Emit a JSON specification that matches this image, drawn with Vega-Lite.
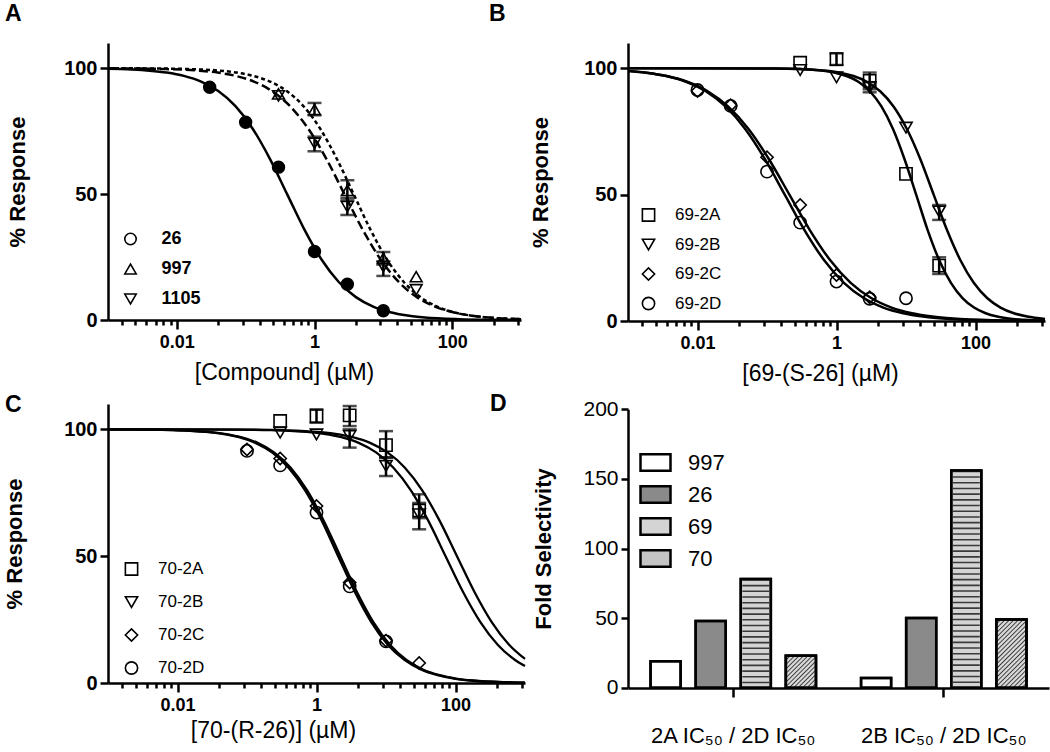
{
  "$schema": "https://vega.github.io/schema/vega-lite/v6.json",
  "padding": {"left": 3, "top": 3, "right": 5, "bottom": 5},
  "config": {
    "font": "Liberation Sans",
    "view": {"stroke": null},
    "axis": {"domainColor": "#000", "domainWidth": 2.5, "tickColor": "#000", "tickWidth": 2.5, "labelColor": "#000", "titleColor": "#000", "grid": false, "labelFont": "Liberation Sans", "titleFont": "Liberation Sans"},
    "legend": {"labelColor": "#000", "labelFont": "Liberation Sans"},
    "title": {"color": "#000", "font": "Liberation Sans"}
  },
  "resolve": {
    "scale": {"shape": "independent", "fill": "independent", "color": "independent"},
    "legend": {"shape": "independent", "fill": "independent", "color": "independent"}
  },
  "datasets": {
    "curveA": [
      {"s":"26","x":0.001,"y":99.75},{"s":"26","x":0.004,"y":99.01},{"s":"26","x":0.00711,"y":98.25},{"s":"26","x":0.01265,"y":96.93},{"s":"26","x":0.0225,"y":94.68},{"s":"26","x":0.04,"y":90.91},{"s":"26","x":0.0711,"y":84.9},{"s":"26","x":0.1265,"y":75.97},{"s":"26","x":0.225,"y":64.01},{"s":"26","x":0.4,"y":50},{"s":"26","x":0.711,"y":35.99},{"s":"26","x":1.265,"y":24.03},{"s":"26","x":2.25,"y":15.1},{"s":"26","x":4,"y":9.09},{"s":"26","x":7.11,"y":5.32},{"s":"26","x":12.65,"y":3.07},{"s":"26","x":22.5,"y":1.75},{"s":"26","x":40,"y":0.99},{"s":"26","x":126.5,"y":0.32},{"s":"26","x":400,"y":0.1},{"s":"26","x":1000,"y":0.04},
      {"s":"997","x":0.001,"y":99.98},{"s":"997","x":0.00452,"y":99.9},{"s":"997","x":0.01384,"y":99.68},{"s":"997","x":0.0423,"y":99.01},{"s":"997","x":0.074,"y":98.25},{"s":"997","x":0.1294,"y":96.93},{"s":"997","x":0.226,"y":94.68},{"s":"997","x":0.395,"y":90.91},{"s":"997","x":0.692,"y":84.9},{"s":"997","x":1.21,"y":75.97},{"s":"997","x":2.11,"y":64.01},{"s":"997","x":3.7,"y":50},{"s":"997","x":6.47,"y":35.99},{"s":"997","x":11.3,"y":24.03},{"s":"997","x":19.8,"y":15.1},{"s":"997","x":34.6,"y":9.09},{"s":"997","x":60.5,"y":5.32},{"s":"997","x":105.7,"y":3.07},{"s":"997","x":185,"y":1.75},{"s":"997","x":323.6,"y":0.99},{"s":"997","x":1000,"y":0.31},
      {"s":"1105","x":0.001,"y":99.95},{"s":"1105","x":0.00189,"y":99.9},{"s":"1105","x":0.00636,"y":99.68},{"s":"1105","x":0.0214,"y":99.01},{"s":"1105","x":0.0392,"y":98.25},{"s":"1105","x":0.0718,"y":96.93},{"s":"1105","x":0.1315,"y":94.68},{"s":"1105","x":0.241,"y":90.91},{"s":"1105","x":0.442,"y":84.9},{"s":"1105","x":0.811,"y":75.97},{"s":"1105","x":1.486,"y":64.01},{"s":"1105","x":2.72,"y":50},{"s":"1105","x":4.99,"y":35.99},{"s":"1105","x":9.14,"y":24.03},{"s":"1105","x":16.75,"y":15.1},{"s":"1105","x":30.7,"y":9.09},{"s":"1105","x":56.4,"y":5.32},{"s":"1105","x":103.3,"y":3.07},{"s":"1105","x":189,"y":1.75},{"s":"1105","x":346.7,"y":0.99},{"s":"1105","x":1000,"y":0.36}
    ],
    "ptsA": [
      {"s":"26","x":0.03,"y":92.4},{"s":"26","x":0.1,"y":78.5},{"s":"26","x":0.3,"y":60.7},{"s":"26","x":1,"y":27.2},{"s":"26","x":3,"y":14.2},{"s":"26","x":10,"y":3.7},
      {"s":"997","x":0.3,"y":89.8},{"s":"997","x":1,"y":83.6},{"s":"997","x":3,"y":51.5},{"s":"997","x":10,"y":24.5},{"s":"997","x":30,"y":17.2},
      {"s":"1105","x":0.3,"y":89.0},{"s":"1105","x":1,"y":70.2},{"s":"1105","x":3,"y":45.0},{"s":"1105","x":10,"y":21.2},{"s":"1105","x":30,"y":12.0}
    ],
    "errA": [
      {"s":"997","x":1,"lo":81.3,"hi":86.2},{"s":"997","x":3,"lo":47.5,"hi":55.5},{"s":"997","x":10,"lo":22.0,"hi":27.0},
      {"s":"1105","x":1,"lo":67.0,"hi":72.8},{"s":"1105","x":3,"lo":41.7,"hi":48.5},{"s":"1105","x":10,"lo":17.5,"hi":23.2}
    ],
    "curveB": [
      {"s":"69-2A","x":0.001,"y":100},{"s":"69-2A","x":0.14,"y":99.9},{"s":"69-2A","x":0.301,"y":99.68},{"s":"69-2A","x":0.65,"y":99.01},{"s":"69-2A","x":0.953,"y":98.25},{"s":"69-2A","x":1.4,"y":96.93},{"s":"69-2A","x":2.06,"y":94.68},{"s":"69-2A","x":3.02,"y":90.91},{"s":"69-2A","x":4.43,"y":84.9},{"s":"69-2A","x":6.5,"y":75.97},{"s":"69-2A","x":9.53,"y":64.01},{"s":"69-2A","x":14,"y":50},{"s":"69-2A","x":20.5,"y":35.99},{"s":"69-2A","x":30.1,"y":24.03},{"s":"69-2A","x":44.3,"y":15.1},{"s":"69-2A","x":65,"y":9.09},{"s":"69-2A","x":95.3,"y":5.32},{"s":"69-2A","x":140,"y":3.07},{"s":"69-2A","x":205.6,"y":1.75},{"s":"69-2A","x":301,"y":0.99},{"s":"69-2A","x":650,"y":0.32},{"s":"69-2A","x":1000,"y":0.17},
      {"s":"69-2B","x":0.001,"y":100},{"s":"69-2B","x":0.123,"y":99.9},{"s":"69-2B","x":0.299,"y":99.68},{"s":"69-2B","x":0.724,"y":99.01},{"s":"69-2B","x":1.127,"y":98.25},{"s":"69-2B","x":1.754,"y":96.93},{"s":"69-2B","x":2.73,"y":94.68},{"s":"69-2B","x":4.25,"y":90.91},{"s":"69-2B","x":6.62,"y":84.9},{"s":"69-2B","x":10.3,"y":75.97},{"s":"69-2B","x":16.1,"y":64.01},{"s":"69-2B","x":25,"y":50},{"s":"69-2B","x":38.9,"y":35.99},{"s":"69-2B","x":60.7,"y":24.03},{"s":"69-2B","x":94.4,"y":15.1},{"s":"69-2B","x":146.9,"y":9.09},{"s":"69-2B","x":229,"y":5.32},{"s":"69-2B","x":356.5,"y":3.07},{"s":"69-2B","x":555,"y":1.75},{"s":"69-2B","x":1000,"y":0.82},
      {"s":"69-2C","x":0.001,"y":98.95},{"s":"69-2C","x":0.00183,"y":98.25},{"s":"69-2C","x":0.00361,"y":96.93},{"s":"69-2C","x":0.0071,"y":94.68},{"s":"69-2C","x":0.014,"y":90.91},{"s":"69-2C","x":0.0275,"y":84.9},{"s":"69-2C","x":0.0542,"y":75.97},{"s":"69-2C","x":0.1067,"y":64.01},{"s":"69-2C","x":0.21,"y":50},{"s":"69-2C","x":0.413,"y":35.99},{"s":"69-2C","x":0.813,"y":24.03},{"s":"69-2C","x":1.6,"y":15.1},{"s":"69-2C","x":3.15,"y":9.09},{"s":"69-2C","x":6.2,"y":5.32},{"s":"69-2C","x":12.2,"y":3.07},{"s":"69-2C","x":24.0,"y":1.75},{"s":"69-2C","x":47.3,"y":0.99},{"s":"69-2C","x":183,"y":0.32},{"s":"69-2C","x":1000,"y":0.07},
      {"s":"69-2D","x":0.001,"y":98.97},{"s":"69-2D","x":0.00185,"y":98.25},{"s":"69-2D","x":0.00355,"y":96.93},{"s":"69-2D","x":0.00684,"y":94.68},{"s":"69-2D","x":0.01315,"y":90.91},{"s":"69-2D","x":0.0253,"y":84.9},{"s":"69-2D","x":0.0486,"y":75.97},{"s":"69-2D","x":0.0935,"y":64.01},{"s":"69-2D","x":0.18,"y":50},{"s":"69-2D","x":0.346,"y":35.99},{"s":"69-2D","x":0.665,"y":24.03},{"s":"69-2D","x":1.28,"y":15.1},{"s":"69-2D","x":2.46,"y":9.09},{"s":"69-2D","x":4.73,"y":5.32},{"s":"69-2D","x":9.12,"y":3.07},{"s":"69-2D","x":17.5,"y":1.75},{"s":"69-2D","x":33.7,"y":0.99},{"s":"69-2D","x":125,"y":0.32},{"s":"69-2D","x":1000,"y":0.05}
    ],
    "ptsB": [
      {"s":"69-2A","x":0.3,"y":102.2},{"s":"69-2A","x":1,"y":103.6},{"s":"69-2A","x":3,"y":95.0},{"s":"69-2A","x":10,"y":58.2},{"s":"69-2A","x":30,"y":21.9},
      {"s":"69-2B","x":0.3,"y":99.3},{"s":"69-2B","x":1,"y":96.4},{"s":"69-2B","x":3,"y":92.5},{"s":"69-2B","x":10,"y":76.5},{"s":"69-2B","x":30,"y":43.3},
      {"s":"69-2C","x":0.01,"y":91.0},{"s":"69-2C","x":0.03,"y":85.4},{"s":"69-2C","x":0.1,"y":64.8},{"s":"69-2C","x":0.3,"y":45.9},{"s":"69-2C","x":1,"y":18.2},{"s":"69-2C","x":3,"y":9.4},
      {"s":"69-2D","x":0.01,"y":91.4},{"s":"69-2D","x":0.03,"y":85.1},{"s":"69-2D","x":0.1,"y":59.1},{"s":"69-2D","x":0.3,"y":38.9},{"s":"69-2D","x":1,"y":15.6},{"s":"69-2D","x":3,"y":8.8},{"s":"69-2D","x":10,"y":9.0}
    ],
    "errB": [
      {"s":"69-2A","x":1,"lo":101.3,"hi":105.9},{"s":"69-2A","x":3,"lo":91.7,"hi":98.3},{"s":"69-2A","x":30,"lo":18.6,"hi":25.2},
      {"s":"69-2B","x":3,"lo":90.5,"hi":94.5},{"s":"69-2B","x":30,"lo":40.0,"hi":45.9}
    ],
    "curveC": [
      {"s":"70-2A","x":0.001,"y":100},{"s":"70-2A","x":0.0105,"y":99.99},{"s":"70-2A","x":0.105,"y":99.9},{"s":"70-2A","x":0.332,"y":99.68},{"s":"70-2A","x":1.05,"y":99.01},{"s":"70-2A","x":1.87,"y":98.25},{"s":"70-2A","x":3.32,"y":96.93},{"s":"70-2A","x":5.9,"y":94.68},{"s":"70-2A","x":10.5,"y":90.91},{"s":"70-2A","x":18.7,"y":84.9},{"s":"70-2A","x":33.2,"y":75.97},{"s":"70-2A","x":59.0,"y":64.01},{"s":"70-2A","x":105,"y":50},{"s":"70-2A","x":186.7,"y":35.99},{"s":"70-2A","x":332,"y":24.03},{"s":"70-2A","x":590,"y":15.1},{"s":"70-2A","x":1000,"y":9.5},
      {"s":"70-2B","x":0.001,"y":100},{"s":"70-2B","x":0.0072,"y":99.99},{"s":"70-2B","x":0.072,"y":99.9},{"s":"70-2B","x":0.228,"y":99.68},{"s":"70-2B","x":0.72,"y":99.01},{"s":"70-2B","x":1.28,"y":98.25},{"s":"70-2B","x":2.28,"y":96.93},{"s":"70-2B","x":4.05,"y":94.68},{"s":"70-2B","x":7.2,"y":90.91},{"s":"70-2B","x":12.8,"y":84.9},{"s":"70-2B","x":22.8,"y":75.97},{"s":"70-2B","x":40.5,"y":64.01},{"s":"70-2B","x":72,"y":50},{"s":"70-2B","x":128,"y":35.99},{"s":"70-2B","x":228,"y":24.03},{"s":"70-2B","x":405,"y":15.1},{"s":"70-2B","x":720,"y":9.09},{"s":"70-2B","x":1000,"y":6.7},
      {"s":"70-2C","x":0.001,"y":99.97},{"s":"70-2C","x":0.00305,"y":99.9},{"s":"70-2C","x":0.00914,"y":99.68},{"s":"70-2C","x":0.0274,"y":99.01},{"s":"70-2C","x":0.0473,"y":98.25},{"s":"70-2C","x":0.0819,"y":96.93},{"s":"70-2C","x":0.142,"y":94.68},{"s":"70-2C","x":0.245,"y":90.91},{"s":"70-2C","x":0.425,"y":84.9},{"s":"70-2C","x":0.734,"y":75.97},{"s":"70-2C","x":1.27,"y":64.01},{"s":"70-2C","x":2.2,"y":50},{"s":"70-2C","x":3.8,"y":35.99},{"s":"70-2C","x":6.58,"y":24.03},{"s":"70-2C","x":11.4,"y":15.1},{"s":"70-2C","x":19.7,"y":9.09},{"s":"70-2C","x":34.0,"y":5.32},{"s":"70-2C","x":59.0,"y":3.07},{"s":"70-2C","x":102,"y":1.75},{"s":"70-2C","x":176.6,"y":0.99},{"s":"70-2C","x":528,"y":0.32},{"s":"70-2C","x":1000,"y":0.16},
      {"s":"70-2D","x":0.001,"y":99.97},{"s":"70-2D","x":0.00285,"y":99.9},{"s":"70-2D","x":0.00853,"y":99.68},{"s":"70-2D","x":0.0255,"y":99.01},{"s":"70-2D","x":0.0442,"y":98.25},{"s":"70-2D","x":0.0764,"y":96.93},{"s":"70-2D","x":0.132,"y":94.68},{"s":"70-2D","x":0.229,"y":90.91},{"s":"70-2D","x":0.396,"y":84.9},{"s":"70-2D","x":0.685,"y":75.97},{"s":"70-2D","x":1.19,"y":64.01},{"s":"70-2D","x":2.05,"y":50},{"s":"70-2D","x":3.55,"y":35.99},{"s":"70-2D","x":6.14,"y":24.03},{"s":"70-2D","x":10.6,"y":15.1},{"s":"70-2D","x":18.4,"y":9.09},{"s":"70-2D","x":31.8,"y":5.32},{"s":"70-2D","x":55.1,"y":3.07},{"s":"70-2D","x":95.3,"y":1.75},{"s":"70-2D","x":165,"y":0.99},{"s":"70-2D","x":493,"y":0.32},{"s":"70-2D","x":1000,"y":0.15}
    ],
    "ptsC": [
      {"s":"70-2A","x":0.3,"y":103.3},{"s":"70-2A","x":1,"y":105.2},{"s":"70-2A","x":3,"y":105.5},{"s":"70-2A","x":10,"y":93.8},{"s":"70-2A","x":30,"y":68.0},
      {"s":"70-2B","x":0.3,"y":98.7},{"s":"70-2B","x":1,"y":98.0},{"s":"70-2B","x":3,"y":97.4},{"s":"70-2B","x":10,"y":85.6},{"s":"70-2B","x":30,"y":66.5},
      {"s":"70-2C","x":0.1,"y":92.1},{"s":"70-2C","x":0.3,"y":88.5},{"s":"70-2C","x":1,"y":69.8},{"s":"70-2C","x":3,"y":39.6},{"s":"70-2C","x":10,"y":16.7},{"s":"70-2C","x":30,"y":7.9},
      {"s":"70-2D","x":0.1,"y":91.5},{"s":"70-2D","x":0.3,"y":85.8},{"s":"70-2D","x":1,"y":67.2},{"s":"70-2D","x":3,"y":38.1},{"s":"70-2D","x":10,"y":16.4}
    ],
    "errC": [
      {"s":"70-2A","x":1,"lo":102.6,"hi":107.9},{"s":"70-2A","x":3,"lo":101.3,"hi":109.2},{"s":"70-2A","x":10,"lo":88.8,"hi":99.3},{"s":"70-2A","x":30,"lo":65.0,"hi":71.0},
      {"s":"70-2B","x":3,"lo":92.8,"hi":100.0},{"s":"70-2B","x":10,"lo":81.6,"hi":89.0},{"s":"70-2B","x":30,"lo":60.6,"hi":74.4}
    ],
    "bars": [
      {"g":"2A IC₅₀ / 2D IC₅₀","s":"997","v":19},{"g":"2A IC₅₀ / 2D IC₅₀","s":"26","v":48},{"g":"2A IC₅₀ / 2D IC₅₀","s":"69","v":78},{"g":"2A IC₅₀ / 2D IC₅₀","s":"70","v":23},
      {"g":"2B IC₅₀ / 2D IC₅₀","s":"997","v":7},{"g":"2B IC₅₀ / 2D IC₅₀","s":"26","v":50},{"g":"2B IC₅₀ / 2D IC₅₀","s":"69","v":156},{"g":"2B IC₅₀ / 2D IC₅₀","s":"70","v":49}
    ]
  },
  "columns": 2,
  "bounds": "flush",
  "spacing": {"row": 83, "column": 103},
  "concat": [
    {
      "width": 413, "height": 277,
      "title": {"text": "A", "anchor": "start", "frame": "group", "dx": -103, "offset": -1, "fontSize": 23, "fontWeight": "bold", "baseline": "alphabetic"},
      "layer": [
        {
          "data": {"name": "curveA"},
          "transform": [{"filter": "datum.s == '26'"}],
          "mark": {"type": "line", "color": "#000", "strokeWidth": 2.5, "interpolate": "monotone"},
          "encoding": {
            "x": {"field": "x", "type": "quantitative", "title": "[Compound] (µM)", "scale": {"type": "log", "domain": [0.001, 1000]},
              "axis": {"values": [0.0016,0.0025,0.0036,0.0049,0.0064,0.0081,0.01,0.04,0.09,0.16,0.25,0.36,0.49,0.64,0.81,1,4,9,16,25,36,49,64,81,100,400,900],
                "labelExpr": "datum.value == 0.01 ? '0.01' : datum.value == 1 ? '1' : datum.value == 100 ? '100' : ''",
                "labelOverlap": false, "labelFlush": false,
                "tickSize": {"condition": {"test": "datum.value == 0.01 || datum.value == 1 || datum.value == 100", "value": 9}, "value": 5},
                "labelFontSize": 18, "labelFontWeight": "bold", "labelPadding": 4,
                "titleFontSize": 23, "titleFontWeight": "normal", "titlePadding": 10, "titleX": 176, "titleAlign": "center"}},
            "y": {"field": "y", "type": "quantitative", "title": "% Response", "scale": {"domain": [0, 110]},
              "axis": {"values": [0, 50, 100], "tickSize": 8, "labelFontSize": 20, "labelFontWeight": "bold", "labelPadding": 3, "titleFontSize": 22, "titleFontWeight": "bold", "titlePadding": 34}}
          }
        },
        {
          "data": {"name": "curveA"},
          "transform": [{"filter": "datum.s == '997'"}],
          "mark": {"type": "line", "color": "#000", "strokeWidth": 2.5, "interpolate": "monotone", "strokeDash": [4, 3]},
          "encoding": {
            "x": {"field": "x", "type": "quantitative", "title": "[Compound] (µM)"},
            "y": {"field": "y", "type": "quantitative", "title": "% Response"}
          }
        },
        {
          "data": {"name": "curveA"},
          "transform": [{"filter": "datum.s == '1105'"}],
          "mark": {"type": "line", "color": "#000", "strokeWidth": 2.5, "interpolate": "monotone", "strokeDash": [9, 4]},
          "encoding": {
            "x": {"field": "x", "type": "quantitative", "title": "[Compound] (µM)"},
            "y": {"field": "y", "type": "quantitative", "title": "% Response"}
          }
        },
        {
          "data": {"name": "errA"},
          "mark": {"type": "errorbar", "ticks": true, "color": "#000", "thickness": 2.5, "size": 14},
          "encoding": {
            "x": {"field": "x", "type": "quantitative", "title": "[Compound] (µM)"},
            "y": {"field": "lo", "type": "quantitative", "title": "% Response"},
            "y2": {"field": "hi"}
          }
        },
        {
          "data": {"name": "ptsA"},
          "mark": {"type": "point", "filled": false, "color": "#000", "strokeWidth": 1.6, "size": 140, "opacity": 1},
          "encoding": {
            "x": {"field": "x", "type": "quantitative", "title": "[Compound] (µM)"},
            "y": {"field": "y", "type": "quantitative", "title": "% Response"},
            "shape": {"field": "s", "type": "nominal", "title": null, "scale": {"domain": ["26", "997", "1105"], "range": ["circle", "triangle-up", "triangle-down"]},
              "legend": {"orient": "none", "legendX": 13.5, "legendY": 187, "padding": 0, "labelFontSize": 18, "labelFontWeight": "bold", "symbolSize": 130, "symbolStrokeColor": "#000", "symbolStrokeWidth": 1.6, "rowPadding": 12, "labelOffset": 22,
                "encode": {"symbols": {"update": {"fill": {"signal": "datum.value === '26' ? '#000' : 'transparent'"}}}}}}
          }
        },
        {
          "data": {"name": "ptsA"},
          "transform": [{"filter": "datum.s == '26'"}],
          "mark": {"type": "point", "shape": "circle", "filled": true, "color": "#000", "size": 140, "opacity": 1},
          "encoding": {
            "x": {"field": "x", "type": "quantitative", "title": "[Compound] (µM)"},
            "y": {"field": "y", "type": "quantitative", "title": "% Response"}
          }
        }
      ]
    },
    {
      "width": 417, "height": 278,
      "title": {"text": "B", "anchor": "start", "frame": "group", "dx": -139, "offset": -1, "fontSize": 23, "fontWeight": "bold", "baseline": "alphabetic"},
      "layer": [
        {
          "data": {"name": "curveB"},
          "mark": {"type": "line", "color": "#000", "strokeWidth": 2.5, "interpolate": "monotone"},
          "encoding": {
            "x": {"field": "x", "type": "quantitative", "title": "[69-(S-26] (µM)", "scale": {"type": "log", "domain": [0.001, 1000]},
              "axis": {"values": [0.0016,0.0025,0.0036,0.0049,0.0064,0.0081,0.01,0.04,0.09,0.16,0.25,0.36,0.49,0.64,0.81,1,4,9,16,25,36,49,64,81,100,400,900],
                "labelExpr": "datum.value == 0.01 ? '0.01' : datum.value == 1 ? '1' : datum.value == 100 ? '100' : ''",
                "labelOverlap": false, "labelFlush": false,
                "tickSize": {"condition": {"test": "datum.value == 0.01 || datum.value == 1 || datum.value == 100", "value": 9}, "value": 5},
                "labelFontSize": 18, "labelFontWeight": "bold", "labelPadding": 4,
                "titleFontSize": 23, "titleFontWeight": "normal", "titlePadding": 10, "titleX": 192, "titleAlign": "center"}},
            "y": {"field": "y", "type": "quantitative", "title": "% Response", "scale": {"domain": [0, 110]},
              "axis": {"values": [0, 50, 100], "tickSize": 8, "labelFontSize": 20, "labelFontWeight": "bold", "labelPadding": 3, "titleFontSize": 22, "titleFontWeight": "bold", "titlePadding": 31}},
            "detail": {"field": "s", "type": "nominal"}
          }
        },
        {
          "data": {"name": "errB"},
          "mark": {"type": "errorbar", "ticks": true, "color": "#000", "thickness": 2.5, "size": 14},
          "encoding": {
            "x": {"field": "x", "type": "quantitative", "title": "[69-(S-26] (µM)"},
            "y": {"field": "lo", "type": "quantitative", "title": "% Response"},
            "y2": {"field": "hi"}
          }
        },
        {
          "data": {"name": "ptsB"},
          "mark": {"type": "point", "filled": false, "color": "#000", "strokeWidth": 1.6, "size": 150, "opacity": 1},
          "encoding": {
            "x": {"field": "x", "type": "quantitative", "title": "[69-(S-26] (µM)"},
            "y": {"field": "y", "type": "quantitative", "title": "% Response"},
            "shape": {"field": "s", "type": "nominal", "title": null, "scale": {"domain": ["69-2A", "69-2B", "69-2C", "69-2D"], "range": ["square", "triangle-down", "diamond", "circle"]},
              "legend": {"orient": "none", "legendX": 12, "legendY": 163.5, "padding": 0, "labelFontSize": 17, "symbolSize": 150, "symbolStrokeColor": "#000", "symbolFillColor": "transparent", "symbolStrokeWidth": 1.6, "rowPadding": 10.5, "labelOffset": 18}}
          }
        }
      ]
    },
    {
      "width": 417, "height": 279,
      "title": {"text": "C", "anchor": "start", "frame": "group", "dx": -103, "offset": -31, "fontSize": 23, "fontWeight": "bold", "baseline": "alphabetic"},
      "layer": [
        {
          "data": {"name": "curveC"},
          "mark": {"type": "line", "color": "#000", "strokeWidth": 2.3, "interpolate": "monotone"},
          "encoding": {
            "x": {"field": "x", "type": "quantitative", "title": "[70-(R-26)] (µM)", "scale": {"type": "log", "domain": [0.001, 1000]},
              "axis": {"values": [0.0016,0.0025,0.0036,0.0049,0.0064,0.0081,0.01,0.04,0.09,0.16,0.25,0.36,0.49,0.64,0.81,1,4,9,16,25,36,49,64,81,100,400,900],
                "labelExpr": "datum.value == 0.01 ? '0.01' : datum.value == 1 ? '1' : datum.value == 100 ? '100' : ''",
                "labelOverlap": false, "labelFlush": false,
                "tickSize": {"condition": {"test": "datum.value == 0.01 || datum.value == 1 || datum.value == 100", "value": 9}, "value": 5},
                "labelFontSize": 18, "labelFontWeight": "bold", "labelPadding": 4,
                "titleFontSize": 23, "titleFontWeight": "normal", "titlePadding": 5, "titleX": 165, "titleAlign": "center"}},
            "y": {"field": "y", "type": "quantitative", "title": "% Response", "scale": {"domain": [0, 110]},
              "axis": {"values": [0, 50, 100], "tickSize": 8, "labelFontSize": 20, "labelFontWeight": "bold", "labelPadding": 3, "titleFontSize": 22, "titleFontWeight": "bold", "titlePadding": 37}},
            "detail": {"field": "s", "type": "nominal"}
          }
        },
        {
          "data": {"name": "errC"},
          "mark": {"type": "errorbar", "ticks": true, "color": "#000", "thickness": 2.5, "size": 14},
          "encoding": {
            "x": {"field": "x", "type": "quantitative", "title": "[70-(R-26)] (µM)"},
            "y": {"field": "lo", "type": "quantitative", "title": "% Response"},
            "y2": {"field": "hi"}
          }
        },
        {
          "data": {"name": "ptsC"},
          "mark": {"type": "point", "filled": false, "color": "#000", "strokeWidth": 1.6, "size": 150, "opacity": 1},
          "encoding": {
            "x": {"field": "x", "type": "quantitative", "title": "[70-(R-26)] (µM)"},
            "y": {"field": "y", "type": "quantitative", "title": "% Response"},
            "shape": {"field": "s", "type": "nominal", "title": null, "scale": {"domain": ["70-2A", "70-2B", "70-2C", "70-2D"], "range": ["square", "triangle-down", "diamond", "circle"]},
              "legend": {"orient": "none", "legendX": 15, "legendY": 156.5, "padding": 0, "labelFontSize": 17, "symbolSize": 150, "symbolStrokeColor": "#000", "symbolFillColor": "transparent", "symbolStrokeWidth": 1.6, "rowPadding": 14, "labelOffset": 18}}
          }
        }
      ]
    },
    {
      "width": 421, "height": 284,
      "title": {"text": "D", "anchor": "start", "frame": "group", "dx": -138, "offset": -36, "fontSize": 23, "fontWeight": "bold", "baseline": "alphabetic"},
      "data": {"name": "bars"},
      "encoding": {
        "x": {"field": "g", "type": "nominal", "title": null, "sort": ["2A IC₅₀ / 2D IC₅₀", "2B IC₅₀ / 2D IC₅₀"], "scale": {"paddingInner": 0, "paddingOuter": 0},
          "axis": {"labelAngle": 0, "labelFontSize": 22, "labelPadding": 28, "tickSize": 9, "bandPosition": 0.5}},
        "xOffset": {"field": "s", "type": "nominal", "scale": {"domain": ["997", "26", "69", "70"], "paddingInner": 0.333, "paddingOuter": 0.5}},
        "y": {"field": "v", "type": "quantitative", "title": "Fold Selectivity", "scale": {"domain": [0, 200], "range": [283.7, 5.3]},
          "axis": {"values": [0, 50, 100, 150, 200], "tickSize": 7, "labelFontSize": 21, "labelPadding": 3, "titleFontSize": 22, "titleFontWeight": "bold", "titlePadding": 27}}
      },
      "layer": [
        {
          "mark": {"type": "bar", "stroke": "#000", "strokeWidth": 2.5},
          "encoding": {
            "fill": {"field": "s", "type": "nominal", "title": null, "scale": {"domain": ["997", "26", "69", "70"], "range": ["#ffffff", "#8a8a8a", "#d4d4d4", "#c4c4c4"]},
              "legend": {"orient": "none", "legendX": 11, "legendY": 42, "padding": 0, "symbolType": "M-1,-0.55H1V0.55H-1Z", "symbolSize": 900, "symbolStrokeColor": "#000", "symbolStrokeWidth": 2.5, "labelFontSize": 22, "labelOffset": 16, "rowPadding": 2}}
          }
        },
        {
          "transform": [{"filter": "datum.s == '69'"}],
          "mark": {"type": "rule", "strokeWidth": 27, "color": "#3a3a3a", "strokeDash": [1.6, 4.1], "strokeCap": "butt"},
          "encoding": {"y2": {"datum": 0}}
        },
        {
          "transform": [{"filter": "datum.s == '70' && datum.v < 30"}],
          "mark": {"type": "bar", "stroke": "#000", "strokeWidth": 2.5,
            "fill": {"gradient": "linear", "x1": 0, "y1": 0, "x2": 0.967, "y2": 1.031, "stops": [
              {"offset":0,"color":"#3a3a3a"},
              {"offset":0.0214,"color":"#d9d9d9"},{"offset":0.05,"color":"#d9d9d9"},{"offset":0.0714,"color":"#3a3a3a"},
              {"offset":0.0929,"color":"#d9d9d9"},{"offset":0.1214,"color":"#d9d9d9"},{"offset":0.1429,"color":"#3a3a3a"},
              {"offset":0.1643,"color":"#d9d9d9"},{"offset":0.1929,"color":"#d9d9d9"},{"offset":0.2143,"color":"#3a3a3a"},
              {"offset":0.2357,"color":"#d9d9d9"},{"offset":0.2643,"color":"#d9d9d9"},{"offset":0.2857,"color":"#3a3a3a"},
              {"offset":0.3071,"color":"#d9d9d9"},{"offset":0.3357,"color":"#d9d9d9"},{"offset":0.3571,"color":"#3a3a3a"},
              {"offset":0.3786,"color":"#d9d9d9"},{"offset":0.4071,"color":"#d9d9d9"},{"offset":0.4286,"color":"#3a3a3a"},
              {"offset":0.45,"color":"#d9d9d9"},{"offset":0.4786,"color":"#d9d9d9"},{"offset":0.5,"color":"#3a3a3a"},
              {"offset":0.5214,"color":"#d9d9d9"},{"offset":0.55,"color":"#d9d9d9"},{"offset":0.5714,"color":"#3a3a3a"},
              {"offset":0.5929,"color":"#d9d9d9"},{"offset":0.6214,"color":"#d9d9d9"},{"offset":0.6429,"color":"#3a3a3a"},
              {"offset":0.6643,"color":"#d9d9d9"},{"offset":0.6929,"color":"#d9d9d9"},{"offset":0.7143,"color":"#3a3a3a"},
              {"offset":0.7357,"color":"#d9d9d9"},{"offset":0.7643,"color":"#d9d9d9"},{"offset":0.7857,"color":"#3a3a3a"},
              {"offset":0.8071,"color":"#d9d9d9"},{"offset":0.8357,"color":"#d9d9d9"},{"offset":0.8571,"color":"#3a3a3a"},
              {"offset":0.8786,"color":"#d9d9d9"},{"offset":0.9071,"color":"#d9d9d9"},{"offset":0.9286,"color":"#3a3a3a"},
              {"offset":0.95,"color":"#d9d9d9"},{"offset":0.9786,"color":"#d9d9d9"},{"offset":1,"color":"#3a3a3a"}
            ]}}
        },
        {
          "transform": [{"filter": "datum.s == '70' && datum.v > 30"}],
          "mark": {"type": "bar", "stroke": "#000", "strokeWidth": 2.5,
            "fill": {"gradient": "linear", "x1": 0, "y1": 0, "x2": 0.531, "y2": 1.207, "stops": [
              {"offset":0,"color":"#3a3a3a"},
              {"offset":0.0136,"color":"#d9d9d9"},{"offset":0.0318,"color":"#d9d9d9"},{"offset":0.0455,"color":"#3a3a3a"},
              {"offset":0.0591,"color":"#d9d9d9"},{"offset":0.0773,"color":"#d9d9d9"},{"offset":0.0909,"color":"#3a3a3a"},
              {"offset":0.1045,"color":"#d9d9d9"},{"offset":0.1227,"color":"#d9d9d9"},{"offset":0.1364,"color":"#3a3a3a"},
              {"offset":0.15,"color":"#d9d9d9"},{"offset":0.1682,"color":"#d9d9d9"},{"offset":0.1818,"color":"#3a3a3a"},
              {"offset":0.1955,"color":"#d9d9d9"},{"offset":0.2136,"color":"#d9d9d9"},{"offset":0.2273,"color":"#3a3a3a"},
              {"offset":0.2409,"color":"#d9d9d9"},{"offset":0.2591,"color":"#d9d9d9"},{"offset":0.2727,"color":"#3a3a3a"},
              {"offset":0.2864,"color":"#d9d9d9"},{"offset":0.3045,"color":"#d9d9d9"},{"offset":0.3182,"color":"#3a3a3a"},
              {"offset":0.3318,"color":"#d9d9d9"},{"offset":0.35,"color":"#d9d9d9"},{"offset":0.3636,"color":"#3a3a3a"},
              {"offset":0.3773,"color":"#d9d9d9"},{"offset":0.3955,"color":"#d9d9d9"},{"offset":0.4091,"color":"#3a3a3a"},
              {"offset":0.4227,"color":"#d9d9d9"},{"offset":0.4409,"color":"#d9d9d9"},{"offset":0.4545,"color":"#3a3a3a"},
              {"offset":0.4682,"color":"#d9d9d9"},{"offset":0.4864,"color":"#d9d9d9"},{"offset":0.5,"color":"#3a3a3a"},
              {"offset":0.5136,"color":"#d9d9d9"},{"offset":0.5318,"color":"#d9d9d9"},{"offset":0.5455,"color":"#3a3a3a"},
              {"offset":0.5591,"color":"#d9d9d9"},{"offset":0.5773,"color":"#d9d9d9"},{"offset":0.5909,"color":"#3a3a3a"},
              {"offset":0.6045,"color":"#d9d9d9"},{"offset":0.6227,"color":"#d9d9d9"},{"offset":0.6364,"color":"#3a3a3a"},
              {"offset":0.65,"color":"#d9d9d9"},{"offset":0.6682,"color":"#d9d9d9"},{"offset":0.6818,"color":"#3a3a3a"},
              {"offset":0.6955,"color":"#d9d9d9"},{"offset":0.7136,"color":"#d9d9d9"},{"offset":0.7273,"color":"#3a3a3a"},
              {"offset":0.7409,"color":"#d9d9d9"},{"offset":0.7591,"color":"#d9d9d9"},{"offset":0.7727,"color":"#3a3a3a"},
              {"offset":0.7864,"color":"#d9d9d9"},{"offset":0.8045,"color":"#d9d9d9"},{"offset":0.8182,"color":"#3a3a3a"},
              {"offset":0.8318,"color":"#d9d9d9"},{"offset":0.85,"color":"#d9d9d9"},{"offset":0.8636,"color":"#3a3a3a"},
              {"offset":0.8773,"color":"#d9d9d9"},{"offset":0.8955,"color":"#d9d9d9"},{"offset":0.9091,"color":"#3a3a3a"},
              {"offset":0.9227,"color":"#d9d9d9"},{"offset":0.9409,"color":"#d9d9d9"},{"offset":0.9545,"color":"#3a3a3a"},
              {"offset":0.9682,"color":"#d9d9d9"},{"offset":0.9864,"color":"#d9d9d9"},{"offset":1,"color":"#3a3a3a"}
            ]}}
        },
        {
          "mark": {"type": "bar", "fill": "transparent", "stroke": "#000", "strokeWidth": 2.5}
        }
      ]
    }
  ]
}
